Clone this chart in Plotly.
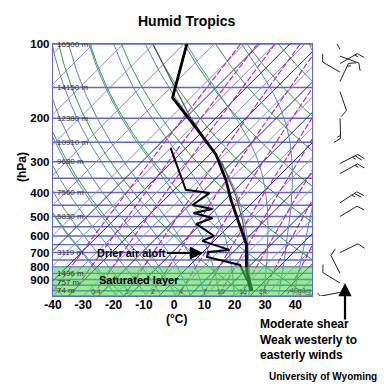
import numpy as np
import plotly.graph_objects as go

# ---------------- data ----------------
title_text = "Humid Tropics"
x_ticks = [-40, -30, -20, -10, 0, 10, 20, 30, 40]
p_ticks = [100, 200, 300, 400, 500, 600, 700, 800, 900]

temp_p = [1000, 925, 850, 800, 700, 650, 525, 430, 355, 280, 225, 165, 100]
temp_c = [24.0, 20.5, 16.6, 14.2, 9.6, 6.9, -3.3, -12.8, -21.3, -33.0, -46.5, -66.0, -79.0]

dwpt_p = [1000, 925, 850, 786, 730, 696, 683, 628, 600, 536, 507, 484, 466, 449, 402, 390, 264]
dwpt_c = [23.5, 20.0, 15.5, 11.5, -2.0, -3.3, 3.0, -8.9, -6.6, -16.5, -13.1, -21.0, -16.1, -24.0, -22.3, -31.2, -50.0]

parcel_p = [1000, 808, 652, 517, 409, 309, 246, 194, 140, 101]
parcel_c = [24.0, 15.2, 6.9, -2.5, -13.1, -27.2, -40.9, -54.8, -72.3, -89.7]

height_p = [100, 150, 200, 250, 300, 400, 500, 700, 850, 925, 1000]
height_lbl = ["16500 m", "14150 m", "12380 m", "10910 m", "9680 m", "7560 m",
              "5830 m", "3119 m", "1496 m", "757 m", "74 m"]

mixr_vals = [0.1, 0.2, 0.4, 1, 2, 4, 7, 10, 16, 24, 40]
mixr_lbl = ["", "", "0.4", "1", "2", "4", "7", "10", "16", "24", "40g/kg"]

wind_p = [1015, 930, 850, 700, 500, 440, 335, 305, 200, 156, 142, 130, 120, 112, 105]
wind_dir = [259, 301, 333, 64, 59, 57, 61, 63, 178, 161, 25, 300, 60, 110, 330]
wind_kt = [5, 10, 10, 10, 10, 25, 15, 25, 15, 10, 15, 10, 15, 10, 10]

saturated_layer = [800, 1050]

# ---------------- geometry / styling ----------------
W = H = 384
X0, X1 = 53, 312
Y0, Y1 = 44, 296
XMIN, XMAX = -40, 45.5
P_TOP, P_BOT = 100, 1050
px_per_dec = (Y1 - Y0) / (np.log10(P_BOT) - np.log10(P_TOP))
px_per_deg = (X1 - X0) / (XMAX - XMIN)
SKEW = px_per_dec / px_per_deg
FONT = "Liberation Sans, Arial, sans-serif"

ISOBAR = "#6666C6"


def skx(T, p):
    return np.asarray(T, float) + SKEW * np.log10(P_BOT / np.asarray(p, float))


fig = go.Figure()


def add_lines(segs, color, width, dash=None, xaxis="x"):
    xs, ys = [], []
    for x, y in segs:
        xs += list(x) + [None]
        ys += list(y) + [None]
    fig.add_trace(go.Scatter(x=xs, y=ys, mode="lines", xaxis=xaxis, yaxis="y",
                             line=dict(color=color, width=width, dash=dash),
                             hoverinfo="skip", showlegend=False))


pp = np.logspace(np.log10(P_TOP), np.log10(P_BOT), 80)

# isobars
add_lines([([XMIN, XMAX], [p, p]) for p in range(100, 1051, 50)], ISOBAR, 1.4)

# isotherms (light every 10, navy in between)
add_lines([(skx([T, T], [P_TOP, P_BOT]), [P_TOP, P_BOT]) for T in range(-170, 50, 10)],
          "#8A8AE0", 1)
add_lines([(skx([T, T], [P_TOP, P_BOT]), [P_TOP, P_BOT]) for T in range(-55, 50, 10)],
          "#1A1AA8", 1)

# dry adiabats (theta every 20 C)
segs = []
for th_c in range(-60, 260, 20):
    th = th_c + 273.15
    T = th * (pp / 1000.0) ** 0.2857 - 273.15
    segs.append((skx(T, pp), pp))
add_lines(segs, "#2EA02E", 1)

# moist adiabats
Rd, cp, Lv, eps = 287.04, 1005.7, 2.501e6, 0.622


def dTdp(T, p):
    es = 6.112 * np.exp(17.67 * (T - 273.15) / (T - 29.65))
    rs = eps * es / (p - es)
    return (Rd * T + Lv * rs) / p / (cp + Lv * Lv * rs * eps / (Rd * T * T))


def integrate(T0, p_from, p_to, n=200):
    ps = np.linspace(p_from, p_to, n)
    Ts = [T0]
    for i in range(n - 1):
        p, h = ps[i], ps[i + 1] - ps[i]
        T = Ts[-1]
        k1 = dTdp(T, p)
        k2 = dTdp(T + h * k1 / 2, p + h / 2)
        k3 = dTdp(T + h * k2 / 2, p + h / 2)
        k4 = dTdp(T + h * k3, p + h)
        Ts.append(T + h * (k1 + 2 * k2 + 2 * k3 + k4) / 6)
    return ps, np.array(Ts)


segs = []
for tw in range(-22, 42, 5):
    pu, Tu = integrate(tw + 273.15, 1000, P_TOP)
    pd, Td = integrate(tw + 273.15, 1000, P_BOT, 20)
    p_all = np.concatenate([pd[::-1], pu[1:]])
    T_all = np.concatenate([Td[::-1], Tu[1:]]) - 273.15
    segs.append((skx(T_all, p_all), p_all))
add_lines(segs, "#4F88C0", 1)


# mixing ratio lines
def td_from_w(w, p):
    e = w * p / (622.0 + w)
    a = np.log(e / 6.112)
    return 243.5 * a / (17.67 - a)


add_lines([(skx(td_from_w(w, pp), pp), pp) for w in mixr_vals], "#C018C0", 1.1, dash="6px,2px")

# parcel path
fig.add_trace(go.Scatter(x=skx(parcel_c, parcel_p), y=parcel_p, mode="lines",
                         line=dict(color="#555555", width=1.2), hoverinfo="skip", showlegend=False))
# dewpoint
fig.add_trace(go.Scatter(x=skx(dwpt_c, dwpt_p), y=dwpt_p, mode="lines",
                         line=dict(color="black", width=2), hoverinfo="skip", showlegend=False))
# temperature
fig.add_trace(go.Scatter(x=skx(temp_c, temp_p), y=temp_p, mode="lines",
                         line=dict(color="black", width=2.8), hoverinfo="skip", showlegend=False))

# saturated layer band (drawn over the lines)
s0, s1 = saturated_layer
fig.add_trace(go.Scatter(x=[XMIN, XMAX, XMAX, XMIN, XMIN], y=[s0, s0, s1, s1, s0],
                         mode="lines", fill="toself", fillcolor="rgba(70,215,70,0.55)",
                         line=dict(width=0, color="rgba(0,0,0,0)"),
                         hoverinfo="skip", showlegend=False))

# wind barbs (x2 axis in pixel units, shared pressure axis)
STN_X, SHAFT, BARB, GAP = 340, 20, 8, 3
segs = []
for p, d, s in zip(wind_p, wind_dir, wind_kt):
    r = np.radians(d)
    u = np.array([np.sin(r), np.cos(r)])
    perp = np.array([np.cos(r), -np.sin(r)])

    def pt(v):
        return STN_X + v[0], p * 10 ** (-v[1] / px_per_dec)

    tip = u * SHAFT
    a, b = pt([0, 0]), pt(tip)
    segs.append(([a[0], b[0]], [a[1], b[1]]))
    n10, n5 = int(s // 10), int((s % 10) // 5)
    k = 0
    for i in range(n10 + n5):
        base = tip - u * GAP * k
        ln = BARB if i < n10 else BARB / 2
        end = base + (0.5 * u + 0.866 * perp) * ln
        c0, c1 = pt(base), pt(end)
        segs.append(([c0[0], c1[0]], [c0[1], c1[1]]))
        k += 1
add_lines(segs, "#222222", 1, xaxis="x2")

# ---------------- layout ----------------
fig.update_layout(
    width=W, height=H, margin=dict(l=0, r=0, t=0, b=0, pad=0),
    paper_bgcolor="white", plot_bgcolor="white", showlegend=False,
    font=dict(family=FONT, color="black"),
    xaxis=dict(domain=[X0 / W, X1 / W], range=[XMIN, XMAX], showgrid=False, zeroline=False,
               tickvals=x_ticks, ticktext=[f"<b>{v}</b>" for v in x_ticks], ticks="",
               tickfont=dict(size=12, family=FONT, color="black"), ticklabelstandoff=-3,
               showline=True, mirror=True, linecolor=ISOBAR, linewidth=1.4, automargin=False),
    yaxis=dict(domain=[1 - Y1 / H, 1 - Y0 / H], type="log",
               range=[np.log10(P_BOT), np.log10(P_TOP)], showgrid=False, zeroline=False,
               tickvals=p_ticks, ticktext=[f"<b>{v}</b>" for v in p_ticks], ticks="",
               tickfont=dict(size=11.5, family=FONT, color="black"),
               showline=True, mirror=True, linecolor=ISOBAR, linewidth=1.4, automargin=False),
    xaxis2=dict(domain=[315 / W, 1.0], range=[315, 384], anchor="y", visible=False,
                showgrid=False, zeroline=False),
)


def px(x):
    return x / W


def py(y):
    return 1 - y / H


ann = [
    dict(text="<b>Humid Tropics</b>", x=px(186), y=py(21), font=dict(size=14)),
    dict(text="<b>(hPa)</b>", x=px(22), y=py(167), textangle=-90, font=dict(size=12)),
    dict(text="<b>(°C)</b>", x=px(176), y=py(319), font=dict(size=12)),
    dict(text="<b>Saturated layer</b>", x=px(139), y=py(280), font=dict(size=11)),
    dict(text="<b>Moderate shear<br>Weak westerly to<br>easterly winds</b>", x=px(258), y=py(339),
         xanchor="left", align="left", font=dict(size=12)),
    dict(text="<b>University of Wyoming</b>", x=px(379), y=py(376), xanchor="right", font=dict(size=10)),
    dict(text="<b>Drier air aloft</b>", x=px(203), y=py(253), showarrow=True, ax=-72, ay=0,
         arrowhead=2, arrowsize=1.2, arrowwidth=2.2, arrowcolor="black", font=dict(size=11)),
    dict(text="", x=px(345), y=py(283), showarrow=True, ax=0, ay=38,
         arrowhead=2, arrowsize=1.2, arrowwidth=2.2, arrowcolor="black"),
]
for a in ann:
    a.setdefault("showarrow", False)
    a.update(xref="paper", yref="paper")
    a.setdefault("xanchor", "center")
    a.setdefault("yanchor", "middle")
    a["font"] = dict(family=FONT, color="black", size=a["font"]["size"]) if "font" in a else dict(family=FONT)

# small in-chart labels placed in data coordinates
for p, lbl in zip(height_p, height_lbl):
    ann.append(dict(text=lbl, x=XMIN + 0.6, y=np.log10(p), xref="x", yref="y", showarrow=False,
                    xanchor="left", yanchor="middle", font=dict(family=FONT, size=8, color="#333333")))
for w, lbl in zip(mixr_vals, mixr_lbl):
    if not lbl:
        continue
    xm = float(skx(td_from_w(w, 1005), 1005))
    last = lbl.endswith("g/kg")
    ann.append(dict(text=lbl, x=xm - (0.5 if last else 0), y=np.log10(1005), xref="x", yref="y",
                    showarrow=False, xanchor="left" if last else "center", yanchor="middle",
                    font=dict(family=FONT, size=7, color="#555555")))

fig.update_layout(annotations=ann)

fig.write_html("out.html", config={"displayModeBar": False},
               post_script="document.body.style.margin='0px';")
